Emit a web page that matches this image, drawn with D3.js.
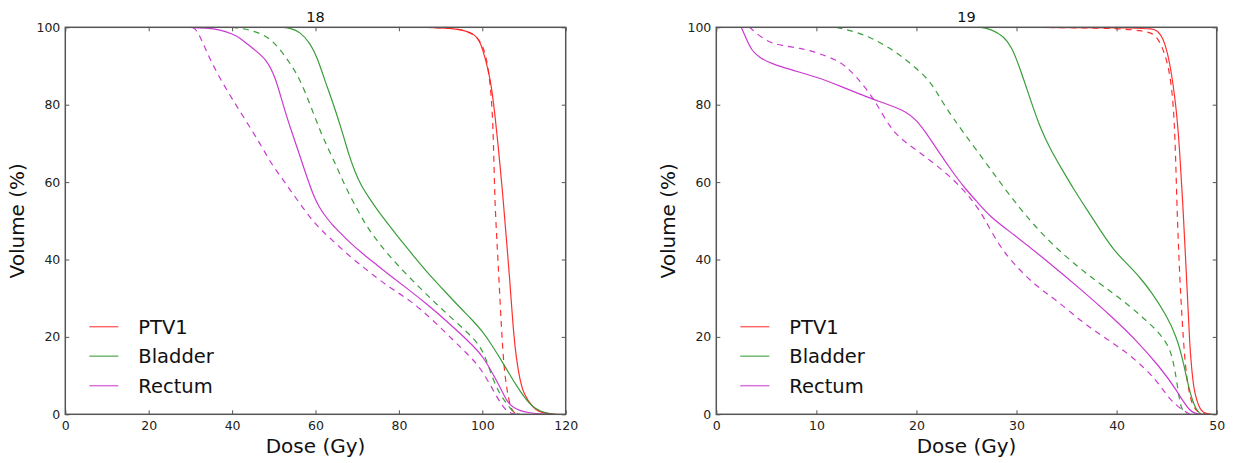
<!DOCTYPE html>
<html>
<head>
<meta charset="utf-8">
<script src="https://cdn.jsdelivr.net/npm/d3@7"></script>
<style>
  body { margin: 0; background: #fff; }
  svg { font-family: "DejaVu Sans", sans-serif; }
</style>
</head>
<body>
<script>
// DVH curves, [dose Gy, volume %]
const p18PtvSolid = [[86,100],[90,99.9],[94,99.6],[97.8,98.6],[99.5,96.5],[100.7,92],[101.9,87],[103,78],[104.3,64],[105,55.5],[105.8,45],[106.6,34.7],[107.4,22],[108.2,14],[109,9],[110,5],[112,2],[113.5,0.6],[116,0.1],[118,0]];
const p18PtvDash = [[86,100],[92,99.8],[95,99.5],[98.5,98],[100.3,95],[101.4,90],[102.3,81],[102.7,70],[103,55],[103.5,45],[104,34.7],[104.6,22],[105.2,12],[105.9,6.3],[106.7,2],[107.5,0.3],[109,0]];
const p18BladderSolid = [[52,100],[54,99.8],[56.3,98.8],[58.7,96],[60.5,92],[62,87],[64.2,80.5],[66.6,72.4],[68,67],[69.5,62.5],[71,59],[72.5,56.5],[75,52.5],[77.9,48.5],[81,44.2],[84.3,39.9],[87,36.4],[90.3,32.6],[94.7,27.5],[97.5,24.5],[100,21.5],[102.3,17.9],[105,13.2],[108.3,7.1],[111.4,2.4],[113.8,0.7],[117,0]];
const p18BladderDash = [[40,100],[44,99.5],[48.3,97.8],[51,95],[53.9,90.8],[56.3,86.5],[59,79.3],[61,73.5],[63.3,68],[65.5,63],[67.5,58],[70,53],[72.3,48.5],[75,44.5],[77.9,40.7],[81.5,36.5],[85.1,32.6],[88.5,29],[91.5,26],[96.3,21.3],[99.4,17.9],[101,14],[102.6,8.9],[104.3,5],[105.8,2.9],[107.5,0.3],[109,0]];
const p18RectumSolid = [[29,100],[34,99.8],[37.1,99.4],[40,98.3],[41.9,97.3],[45,94.5],[48.3,91.7],[50.3,87.2],[51.7,82],[53.1,76.9],[54.5,72.3],[55.9,68],[57.7,62],[59.5,56.5],[61,53.3],[62.5,51],[64,49],[66,46.8],[68.3,44.3],[71.5,41.3],[74.7,38.6],[78.3,35.5],[81.9,32.6],[87.5,27.8],[91,24.5],[94.7,20.9],[97.5,18],[100.2,14.9],[102.5,10.5],[104.6,6.3],[105.8,3.5],[107.4,1.6],[110.7,0.3],[116,0]];
const p18RectumDash = [[30.5,100],[31.5,99.4],[33,96],[34.7,91.7],[37.5,86],[40.3,81],[43.5,75.5],[46.7,70],[49.5,64.5],[52.3,60.5],[53.9,58],[57.1,53.2],[60,49],[63.5,45.5],[68.3,40.7],[73,36.7],[77.9,32.6],[82.7,29.5],[88,24.5],[93,19.2],[96.5,15.5],[99.4,12.3],[102.6,6.3],[105,1.6],[106.7,0.3],[108,0]];

const p19PtvSolid = [[30,100],[43.3,99.9],[44,99.3],[44.6,97.7],[45.3,91.7],[46,78.6],[46.3,68],[46.6,55.4],[47,34.7],[47.3,17.5],[47.6,9],[47.8,5.5],[48.2,2],[48.6,0.3],[49.5,0]];
const p19PtvDash = [[31,100],[40,99.8],[42.6,99.1],[43.6,98.5],[44.3,96.7],[45.3,89.8],[45.8,76.9],[46,55.4],[46.3,34.7],[46.8,13.3],[47.2,6],[47.6,2],[48.2,0.3],[49,0]];
const p19BladderSolid = [[26.4,100],[27.5,99.5],[28.7,97.7],[29.5,95],[30.3,89.8],[31.5,80.4],[32.3,74.5],[33.4,68.3],[34.5,63.5],[35.7,58.2],[37,53],[38.3,47.8],[39.7,42.4],[41,39],[42.3,35.5],[43.5,31.5],[45,25.5],[46,20],[46.7,13.3],[47.3,5.5],[48,0.7],[48.5,0]];
const p19BladderDash = [[12,100],[14,98.8],[16,96.7],[18,93.5],[19.4,90.7],[21.3,86.4],[22.3,82],[23.5,77],[26,68.3],[28.3,60.1],[30.7,51.9],[33.4,44.2],[36.4,37.5],[38.7,33],[39.7,31.2],[41.3,28],[42.7,24.8],[44,21.8],[45.3,17.5],[45.7,13],[46,8.9],[46.4,1.1],[47,0]];
const p19RectumSolid = [[2.5,100],[3,97],[3.5,94.1],[4.3,92.2],[5.4,90.7],[7.5,89],[10,87.2],[12.5,84.7],[15,82],[17,80.2],[19,78.2],[20,76],[21,72.6],[22.3,67.5],[23.5,63],[24.8,58.5],[25.9,55.4],[27.3,51.1],[29.7,46.5],[32.3,41.2],[36.3,32.6],[39.7,24.8],[42,19],[44.3,12.3],[46,6.3],[47.3,0.3],[48.5,0]];
const p19RectumDash = [[3.3,100],[3.7,99.2],[5,96.3],[6.5,95.3],[8.4,94.6],[10,93.5],[12,91.6],[13,89.8],[14,87.2],[15,84],[16,80.4],[17.3,74.3],[18.5,71],[20,68.3],[21.5,65.3],[23,62.3],[24.7,58],[25.7,54.9],[26.7,51.1],[28.3,43.3],[30,38.1],[32,33],[34,29.5],[36.7,23.5],[39,19.5],[41.6,14.9],[44,8.9],[45.3,3.7],[46.6,1.1],[47.3,0]];

const structures = ['PTV1', 'Bladder', 'Rectum'];
const colors = ['#ff1a1a', '#259325', '#c425cc'];
const yTicks = [0, 20, 40, 60, 80, 100];

const panels = [
  { title: '18', xMax: 120, xTicks: [0, 20, 40, 60, 80, 100, 120], left: 65.3,
    curves: [[p18PtvSolid, p18PtvDash], [p18BladderSolid, p18BladderDash], [p18RectumSolid, p18RectumDash]] },
  { title: '19', xMax: 50, xTicks: [0, 10, 20, 30, 40, 50], left: 716.3,
    curves: [[p19PtvSolid, p19PtvDash], [p19BladderSolid, p19BladderDash], [p19RectumSolid, p19RectumDash]] }
];

const W = 1233, H = 463;
const plotW = 500.4, plotTop = 27.3, plotBottom = 414.3;

const svg = d3.select('body').append('svg')
  .attr('width', W)
  .attr('height', H);

panels.forEach((p, pi) => {
  const h = plotBottom - plotTop;
  const x = d3.scaleLinear().domain([0, p.xMax]).range([0, plotW]);
  const y = d3.scaleLinear().domain([0, 100]).range([h, 0]);

  const g = svg.append('g').attr('transform', `translate(${p.left},${plotTop})`);

  g.append('clipPath').attr('id', 'clip' + pi)
    .append('rect').attr('width', plotW).attr('height', h);

  const line = d3.line()
    .x(d => x(d[0]))
    .y(d => y(d[1]))
    .curve(d3.curveBasis);

  const lines = g.append('g').attr('clip-path', `url(#clip${pi})`);
  p.curves.forEach((pair, i) => {
    pair.forEach((data, k) => {
      lines.append('path')
        .datum(data)
        .attr('d', line)
        .attr('fill', 'none')
        .attr('stroke', colors[i])
        .attr('stroke-width', 1.2)
        .attr('stroke-opacity', 0.9)
        .attr('stroke-dasharray', k === 1 ? '6,5' : null);
    });
  });

  // axes, ticks pointing inward
  const axisStyle = sel => {
    sel.select('.domain').remove();
    sel.selectAll('line').attr('stroke', '#555').attr('stroke-width', 1);
    sel.selectAll('text').attr('fill', '#222').style('font-size', '12.5px')
      .style('font-family', '"DejaVu Sans", sans-serif');
  };

  g.append('g').attr('transform', `translate(0,${h})`)
    .call(d3.axisBottom(x).tickValues(p.xTicks).tickSize(-4).tickPadding(7).tickFormat(d3.format('d')))
    .call(axisStyle);
  g.append('g')
    .call(d3.axisTop(x).tickValues(p.xTicks).tickSize(-4).tickFormat(''))
    .call(axisStyle);
  g.append('g')
    .call(d3.axisLeft(y).tickValues(yTicks).tickSize(-4).tickPadding(5).tickFormat(d3.format('d')))
    .call(axisStyle);
  g.append('g').attr('transform', `translate(${plotW},0)`)
    .call(d3.axisRight(y).tickValues(yTicks).tickSize(-4).tickFormat(''))
    .call(axisStyle);

  g.append('rect')
    .attr('width', plotW).attr('height', h)
    .attr('fill', 'none')
    .attr('stroke', '#555')
    .attr('stroke-width', 1.5);

  // titles and labels
  g.append('text')
    .attr('x', plotW / 2).attr('y', -5.5)
    .attr('text-anchor', 'middle')
    .style('font-size', '14.5px')
    .attr('fill', '#111')
    .text(p.title);

  g.append('text')
    .attr('x', plotW / 2).attr('y', h + 39)
    .attr('text-anchor', 'middle')
    .style('font-size', '20px')
    .attr('fill', '#111')
    .text('Dose (Gy)');

  g.append('text')
    .attr('transform', `translate(-41,${h / 2}) rotate(-90)`)
    .attr('text-anchor', 'middle')
    .style('font-size', '20px')
    .attr('fill', '#111')
    .text('Volume (%)');

  // legend
  const leg = g.append('g').attr('transform', 'translate(24,299.4)');
  structures.forEach((name, i) => {
    const row = leg.append('g').attr('transform', `translate(0,${i * 29.5})`);
    row.append('line')
      .attr('x1', 0).attr('x2', 29)
      .attr('stroke', colors[i])
      .attr('stroke-width', 1.5)
      .attr('stroke-opacity', 0.65);
    row.append('text')
      .attr('x', 49).attr('y', 7)
      .style('font-size', '19.5px')
      .attr('fill', '#111')
      .text(name);
  });
});
</script>
</body>
</html>
